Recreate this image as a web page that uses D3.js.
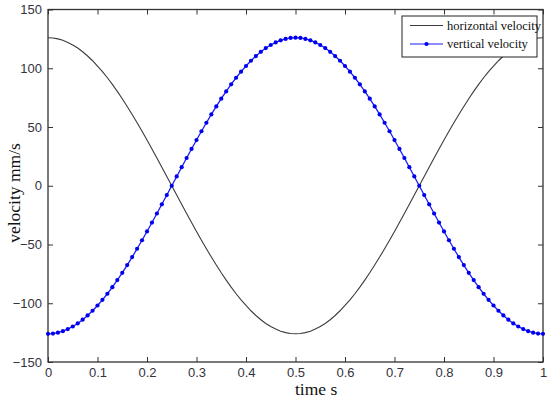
<!DOCTYPE html>
<html>
<head>
<meta charset="utf-8">
<script src="https://cdn.jsdelivr.net/npm/d3@7"></script>
<style>
  body { margin: 0; background: #fff; }
  svg { display: block; }
</style>
</head>
<body>
<div id="chart"></div>
<script>
// data
const time = [0, 0.01, 0.02, 0.03, 0.04, 0.05, 0.06, 0.07, 0.08, 0.09,
  0.1, 0.11, 0.12, 0.13, 0.14, 0.15, 0.16, 0.17, 0.18, 0.19,
  0.2, 0.21, 0.22, 0.23, 0.24, 0.25, 0.26, 0.27, 0.28, 0.29,
  0.3, 0.31, 0.32, 0.33, 0.34, 0.35, 0.36, 0.37, 0.38, 0.39,
  0.4, 0.41, 0.42, 0.43, 0.44, 0.45, 0.46, 0.47, 0.48, 0.49,
  0.5, 0.51, 0.52, 0.53, 0.54, 0.55, 0.56, 0.57, 0.58, 0.59,
  0.6, 0.61, 0.62, 0.63, 0.64, 0.65, 0.66, 0.67, 0.68, 0.69,
  0.7, 0.71, 0.72, 0.73, 0.74, 0.75, 0.76, 0.77, 0.78, 0.79,
  0.8, 0.81, 0.82, 0.83, 0.84, 0.85, 0.86, 0.87, 0.88, 0.89,
  0.9, 0.91, 0.92, 0.93, 0.94, 0.95, 0.96, 0.97, 0.98, 0.99, 1];

const horizontal = [126, 125.8, 125.0, 123.8, 122.0, 119.8, 117.2, 114.0, 110.4, 106.4,
  101.9, 97.1, 91.9, 86.3, 80.3, 74.1, 67.5, 60.7, 53.6, 46.4,
  38.9, 31.3, 23.6, 15.8, 7.9, 0, -7.9, -15.8, -23.6, -31.3,
  -38.9, -46.4, -53.6, -60.7, -67.5, -74.1, -80.3, -86.3, -91.9, -97.1,
  -101.9, -106.4, -110.4, -114.0, -117.2, -119.8, -122.0, -123.8, -125.0, -125.8,
  -126, -125.8, -125.0, -123.8, -122.0, -119.8, -117.2, -114.0, -110.4, -106.4,
  -101.9, -97.1, -91.9, -86.3, -80.3, -74.1, -67.5, -60.7, -53.6, -46.4,
  -38.9, -31.3, -23.6, -15.8, -7.9, 0, 7.9, 15.8, 23.6, 31.3,
  38.9, 46.4, 53.6, 60.7, 67.5, 74.1, 80.3, 86.3, 91.9, 97.1,
  101.9, 106.4, 110.4, 114.0, 117.2, 119.8, 122.0, 123.8, 125.0, 125.8, 126];

const vertical = [-126, -125.8, -125.0, -123.8, -122.0, -119.8, -117.2, -114.0, -110.4, -106.4,
  -101.9, -97.1, -91.9, -86.3, -80.3, -74.1, -67.5, -60.7, -53.6, -46.4,
  -38.9, -31.3, -23.6, -15.8, -7.9, 0, 7.9, 15.8, 23.6, 31.3,
  38.9, 46.4, 53.6, 60.7, 67.5, 74.1, 80.3, 86.3, 91.9, 97.1,
  101.9, 106.4, 110.4, 114.0, 117.2, 119.8, 122.0, 123.8, 125.0, 125.8,
  126, 125.8, 125.0, 123.8, 122.0, 119.8, 117.2, 114.0, 110.4, 106.4,
  101.9, 97.1, 91.9, 86.3, 80.3, 74.1, 67.5, 60.7, 53.6, 46.4,
  38.9, 31.3, 23.6, 15.8, 7.9, 0, -7.9, -15.8, -23.6, -31.3,
  -38.9, -46.4, -53.6, -60.7, -67.5, -74.1, -80.3, -86.3, -91.9, -97.1,
  -101.9, -106.4, -110.4, -114.0, -117.2, -119.8, -122.0, -123.8, -125.0, -125.8, -126];

const xTicks = [0, 0.1, 0.2, 0.3, 0.4, 0.5, 0.6, 0.7, 0.8, 0.9, 1];
const yTicks = [-150, -100, -50, 0, 50, 100, 150];
const seriesNames = ["horizontal velocity", "vertical velocity"];

const width = 550, height = 399;
const mLeft = 48, mRight = 543, mTop = 9.5, mBottom = 362;

const svg = d3
  .select("#chart")
  .append("svg")
  .attr("width", width)
  .attr("height", height);

const x = d3.scaleLinear().domain([0, 1]).range([mLeft, mRight]);
const y = d3.scaleLinear().domain([-150, 150]).range([mBottom, mTop]);

// frame
svg.append("rect")
  .attr("x", mLeft)
  .attr("y", mTop)
  .attr("width", mRight - mLeft)
  .attr("height", mBottom - mTop)
  .attr("fill", "none")
  .attr("stroke", "#333")
  .attr("stroke-width", 1.3);

// axes, ticks point inward
const tickFont = (g) => {
  g.select(".domain").remove();
  g.selectAll(".tick line").attr("stroke", "#333");
  g.selectAll(".tick text")
    .attr("fill", "#33333d")
    .style("font-family", "'Liberation Sans', Arial, sans-serif")
    .style("font-size", "13px");
};

svg.append("g")
  .attr("transform", "translate(0," + mBottom + ")")
  .call(d3.axisBottom(x).tickValues(xTicks).tickFormat(d3.format("")).tickSizeInner(-5).tickPadding(6))
  .call(tickFont);

svg.append("g")
  .attr("transform", "translate(0," + mTop + ")")
  .call(d3.axisTop(x).tickValues(xTicks).tickSizeInner(-5).tickFormat(""))
  .call(tickFont);

svg.append("g")
  .attr("transform", "translate(" + mLeft + ",0)")
  .call(d3.axisLeft(y).tickValues(yTicks).tickSizeInner(-5).tickPadding(6))
  .call(tickFont);

svg.append("g")
  .attr("transform", "translate(" + mRight + ",0)")
  .call(d3.axisRight(y).tickValues(yTicks).tickSizeInner(-5).tickFormat(""))
  .call(tickFont);

// lines
const line = d3.line()
  .x((d) => x(d[0]))
  .y((d) => y(d[1]));

const hData = time.map((t, i) => [t, horizontal[i]]);
const vData = time.map((t, i) => [t, vertical[i]]);

svg.append("path")
  .datum(hData)
  .attr("d", line)
  .attr("fill", "none")
  .attr("stroke", "#3c3c3c")
  .attr("stroke-width", 1.1);

svg.append("path")
  .datum(vData)
  .attr("d", line)
  .attr("fill", "none")
  .attr("stroke", "#1a1aff")
  .attr("stroke-width", 1.3);

svg.append("g")
  .selectAll("circle")
  .data(vData)
  .enter()
  .append("circle")
  .attr("cx", (d) => x(d[0]))
  .attr("cy", (d) => y(d[1]))
  .attr("r", 2.1)
  .attr("fill", "#0000ee");

// axis labels
svg.append("text")
  .attr("x", 295)
  .attr("y", 395)
  .style("font-family", "'Liberation Serif', 'Times New Roman', serif")
  .style("font-size", "17.5px")
  .attr("fill", "#111")
  .text("time s");

svg.append("text")
  .attr("transform", "translate(20,193) rotate(-90)")
  .attr("text-anchor", "middle")
  .style("font-family", "'Liberation Serif', 'Times New Roman', serif")
  .style("font-size", "17.5px")
  .attr("fill", "#111")
  .text("velocity mm/s");

// legend
const legend = svg.append("g");
legend.append("rect")
  .attr("x", 402)
  .attr("y", 16)
  .attr("width", 135)
  .attr("height", 41)
  .attr("fill", "#fff")
  .attr("stroke", "#222")
  .attr("stroke-width", 1);

seriesNames.forEach((name, i) => {
  const ly = 25.5 + i * 18.5;
  legend.append("line")
    .attr("x1", 410)
    .attr("x2", 443)
    .attr("y1", ly)
    .attr("y2", ly)
    .attr("stroke", i === 0 ? "#3c3c3c" : "#1a1aff")
    .attr("stroke-width", 1.2);
  if (i === 1) {
    legend.append("circle")
      .attr("cx", 426.5)
      .attr("cy", ly)
      .attr("r", 2.1)
      .attr("fill", "#0000ee");
  }
  legend.append("text")
    .attr("x", 447)
    .attr("y", ly + 4)
    .style("font-family", "'Liberation Serif', 'Times New Roman', serif")
    .style("font-size", "12.5px")
    .attr("fill", "#111")
    .text(name);
});
</script>
</body>
</html>
